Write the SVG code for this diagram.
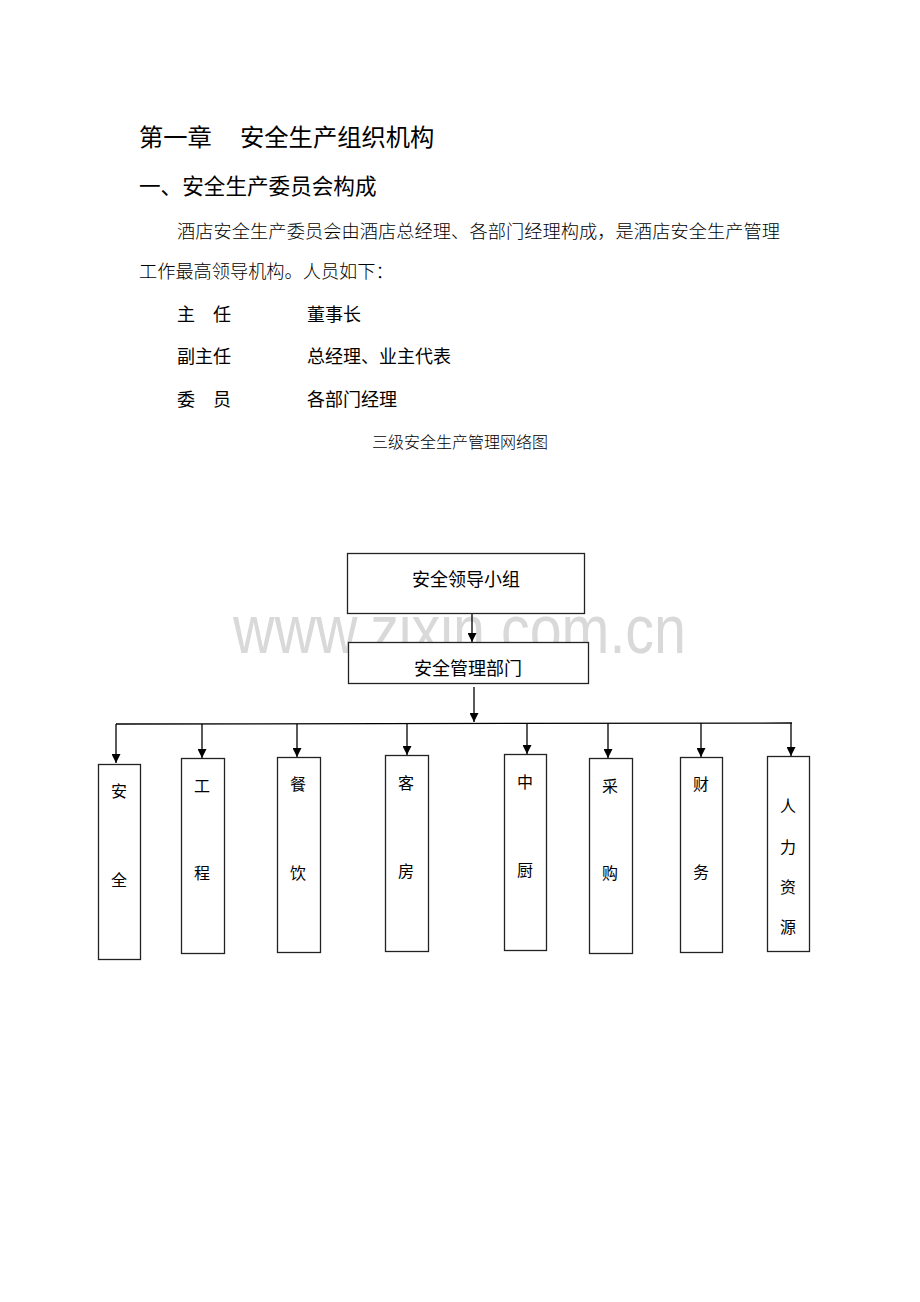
<svg xmlns="http://www.w3.org/2000/svg" width="920" height="1302" viewBox="0 0 920 1302">
<style>
.h{font-family:"Liberation Sans","Noto Sans CJK SC",sans-serif;fill:#000}
.p{font-family:"Liberation Serif","Noto Sans CJK SC",serif;fill:#000;font-weight:300}
.box{fill:#fff;stroke:#222;stroke-width:1.3}
.ln{stroke:#000;stroke-width:1.3;fill:none}
.bt{font-family:"Liberation Sans","Noto Sans CJK SC",sans-serif;font-size:16px;text-anchor:middle;dominant-baseline:central}
</style>
<defs>
<marker id="ar" viewBox="0 0 10 10" refX="10" refY="5" markerWidth="9" markerHeight="9" markerUnits="userSpaceOnUse" orient="auto">
<path d="M0,0 L10,5 L0,10 z" fill="#000"/>
</marker>
</defs>
<rect width="920" height="1302" fill="#fff"/>
<text class="h" x="139" y="146" font-size="24.3">第一章<tspan x="240">安全生产组织机构</tspan></text>
<text class="h" x="139" y="194" font-size="21.6">一、安全生产委员会构成</text>
<text class="p" x="177" y="238" font-size="18.2" textLength="603">酒店安全生产委员会由酒店总经理、各部门经理构成，是酒店安全生产管理</text>
<text class="p" x="139" y="278" font-size="18.2">工作最高领导机构。人员如下：</text>
<text class="h" x="177" y="321" font-size="18">主<tspan x="213">任</tspan></text>
<text class="h" x="307" y="321" font-size="18">董事长</text>
<text class="h" x="177" y="363" font-size="18">副主任</text>
<text class="h" x="307" y="363" font-size="18">总经理、业主代表</text>
<text class="h" x="177" y="406" font-size="18">委<tspan x="213">员</tspan></text>
<text class="h" x="307" y="406" font-size="18">各部门经理</text>
<text class="p" x="460" y="448" font-size="16" text-anchor="middle">三级安全生产管理网络图</text>
<text x="233" y="653" font-family="Liberation Sans,sans-serif" font-size="68" fill="#d9d9d9" textLength="453" lengthAdjust="spacingAndGlyphs">www.zixin.com.cn</text>
<g id="connectors">
<line class="ln" x1="472" y1="613" x2="472" y2="642" marker-end="url(#ar)"/>
<line class="ln" x1="474" y1="687" x2="474" y2="722" marker-end="url(#ar)"/>
<line class="ln" x1="116" y1="724" x2="792" y2="723"/>
<line class="ln" x1="116" y1="724" x2="116" y2="763" marker-end="url(#ar)"/>
<line class="ln" x1="202" y1="724" x2="202" y2="758" marker-end="url(#ar)"/>
<line class="ln" x1="297" y1="724" x2="297" y2="757" marker-end="url(#ar)"/>
<line class="ln" x1="407" y1="723" x2="407" y2="755" marker-end="url(#ar)"/>
<line class="ln" x1="527" y1="723" x2="527" y2="754" marker-end="url(#ar)"/>
<line class="ln" x1="608" y1="723" x2="608" y2="758" marker-end="url(#ar)"/>
<line class="ln" x1="701" y1="723" x2="701" y2="757" marker-end="url(#ar)"/>
<line class="ln" x1="791" y1="723" x2="791" y2="756" marker-end="url(#ar)"/>
</g>
<g id="n1"><rect class="box" x="347.5" y="553.5" width="237" height="60"/><text class="bt" x="466" y="580" style="font-size:18px">安全领导小组</text></g>
<g id="n2"><rect class="box" x="348.5" y="642.5" width="240" height="41"/><text class="bt" x="468" y="669" style="font-size:18px">安全管理部门</text></g>
<g id="d1"><rect class="box" x="98.5" y="764.5" width="42" height="195"/><text class="bt" x="119" y="791">安</text><text class="bt" x="119" y="880">全</text></g>
<g id="d2"><rect class="box" x="181.5" y="758.5" width="43" height="195"/><text class="bt" x="202" y="786">工</text><text class="bt" x="202" y="873">程</text></g>
<g id="d3"><rect class="box" x="277.5" y="757.5" width="43" height="195"/><text class="bt" x="298" y="784">餐</text><text class="bt" x="298" y="873">饮</text></g>
<g id="d4"><rect class="box" x="385.5" y="755.5" width="43" height="196"/><text class="bt" x="406" y="783">客</text><text class="bt" x="406" y="871">房</text></g>
<g id="d5"><rect class="box" x="504.5" y="754.5" width="42" height="196"/><text class="bt" x="525" y="782">中</text><text class="bt" x="525" y="870">厨</text></g>
<g id="d6"><rect class="box" x="589.5" y="758.5" width="43" height="195"/><text class="bt" x="610" y="786">采</text><text class="bt" x="610" y="873">购</text></g>
<g id="d7"><rect class="box" x="680.5" y="757.5" width="42" height="195"/><text class="bt" x="701" y="784">财</text><text class="bt" x="701" y="872">务</text></g>
<g id="d8"><rect class="box" x="767.5" y="756.5" width="42" height="195"/><text class="bt" x="788" y="806">人</text><text class="bt" x="788" y="847">力</text><text class="bt" x="788" y="887">资</text><text class="bt" x="788" y="927">源</text></g>
</svg>
